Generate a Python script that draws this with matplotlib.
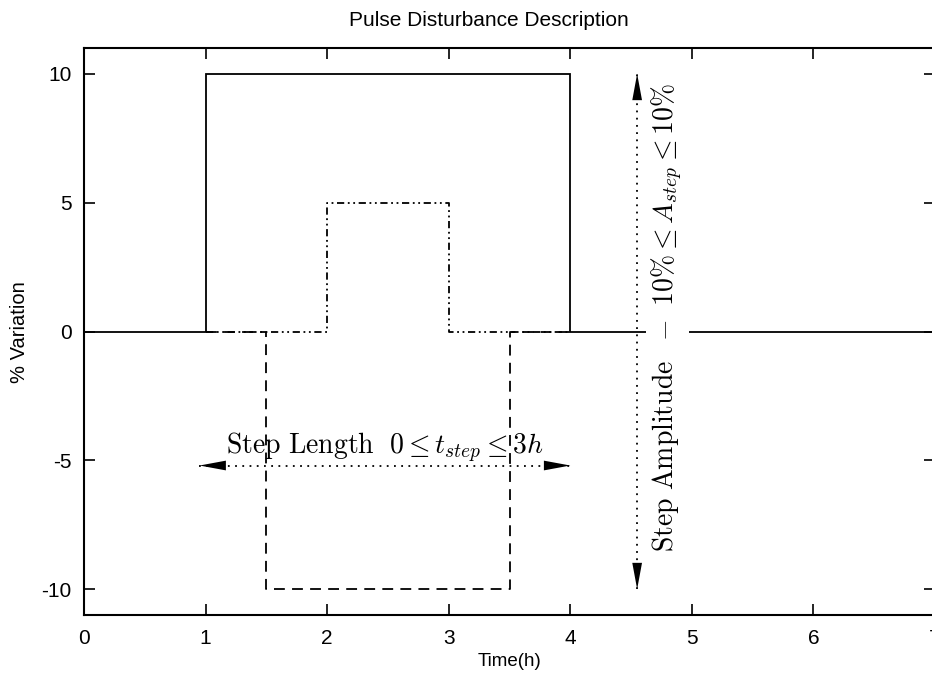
import matplotlib
matplotlib.use('Agg')
import matplotlib.pyplot as plt

plt.rcParams['font.family'] = ['Liberation Sans', 'DejaVu Sans']
plt.rcParams['mathtext.fontset'] = 'cm'

# step profiles (time in h, % variation)
t_solid = [0, 1, 1, 4, 4, 7]
y_solid = [0, 0, 10, 10, 0, 0]
t_dashdot = [1, 2, 2, 3, 3, 4]
y_dashdot = [0, 0, 5, 5, 0, 0]
t_dashed = [1, 1.5, 1.5, 3.5, 3.5, 4]
y_dashed = [0, 0, -10, -10, 0, 0]

xticks = [0, 1, 2, 3, 4, 5, 6, 7]
yticks = [-10, -5, 0, 5, 10]

# annotation arrows
len_arrow = (0.95, 4.0, -5.2)     # x0, x1, y
amp_arrow = (4.55, -10.0, 10.0)   # x, y0, y1

fig = plt.figure(figsize=(9.32, 6.75), dpi=100)
ax = fig.add_axes([84/932, 60/675, 851/932, 567/675])

ax.plot(t_solid, y_solid, color='black', lw=1.3, solid_joinstyle='miter')
ax.plot(t_dashdot, y_dashdot, color='black', lw=1.3,
        linestyle=(0, (4, 2, 1, 2, 1, 2)))
ax.plot(t_dashed, y_dashed, color='black', lw=1.3, linestyle=(0, (6, 4)))

ax.set_xlim(0, 7)
ax.set_ylim(-11, 11)
ax.set_xticks(xticks)
ax.set_yticks(yticks)
ax.set_xticklabels([str(v) for v in xticks])
ax.set_yticklabels([str(v) for v in yticks])
ax.tick_params(direction='in', length=8, width=1.2, top=True, right=True,
               labelsize=15, pad=9)
ax.tick_params(axis='x', pad=10)
for s in ax.spines.values():
    s.set_linewidth(1.5)

# step length arrow
ax.plot([len_arrow[0], len_arrow[1]], [len_arrow[2], len_arrow[2]],
        color='black', lw=1.3, linestyle=(0, (1, 3)))
ax.annotate('', xy=(len_arrow[1], len_arrow[2]),
            xytext=(len_arrow[0], len_arrow[2]),
            arrowprops=dict(arrowstyle='<|-|>,head_length=1.9,head_width=0.35',
                            color='black', lw=0, shrinkA=0, shrinkB=0))
ax.text(1.17, -4.75, r'$\mathrm{Step\ Length}\ \ 0 \leq t_{step} \leq 3h$',
        fontsize=20, ha='left', va='baseline')

# step amplitude arrow
ax.plot([amp_arrow[0], amp_arrow[0]], [amp_arrow[1], amp_arrow[2]],
        color='black', lw=1.3, linestyle=(0, (1, 3)))
ax.annotate('', xy=(amp_arrow[0], amp_arrow[2]),
            xytext=(amp_arrow[0], amp_arrow[1]),
            arrowprops=dict(arrowstyle='<|-|>,head_length=1.9,head_width=0.35',
                            color='black', lw=0, shrinkA=0, shrinkB=0))
ax.text(4.8, 0.55,
        r'$\mathrm{Step\ Amplitude}\ \ -\ 10\% \leq A_{step} \leq 10\%$',
        fontsize=20, rotation=90, ha='center', va='center',
        bbox=dict(facecolor='white', edgecolor='none', pad=3))

fig.text(489/932, 1 - 20/675, 'Pulse Disturbance Description',
         fontsize=15, ha='center', va='center')
fig.text(509/932, 1 - 662/675, 'Time(h)', fontsize=13.5,
         ha='center', va='center')
fig.text(20/932, 1 - 332/675, '% Variation', fontsize=14.5,
         ha='center', va='center', rotation=90)

fig.savefig('out.png', dpi=100)
